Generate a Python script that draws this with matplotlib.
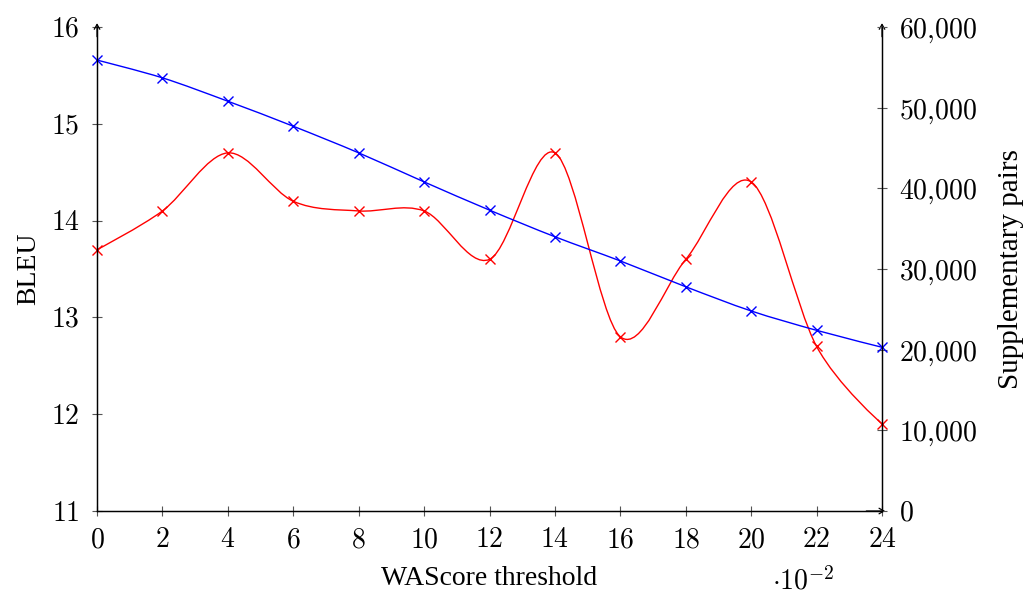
import numpy as np
import matplotlib
matplotlib.use('Agg')
import matplotlib.pyplot as plt
from matplotlib.path import Path
from matplotlib.patches import PathPatch
from matplotlib.ticker import FuncFormatter, MultipleLocator

plt.rcParams['mathtext.fontset'] = 'cm'
plt.rcParams['font.family'] = ['Liberation Serif', 'DejaVu Serif']

# -------------------- data --------------------
threshold = [0, 2, 4, 6, 8, 10, 12, 14, 16, 18, 20, 22, 24]   # x 10^-2
bleu = [13.7, 14.1, 14.7, 14.2, 14.1, 14.1, 13.6, 14.7, 12.8, 13.6, 14.4, 12.7, 11.9]
pairs = [55900, 53700, 50800, 47700, 44400, 40800, 37300, 34000, 31000, 27800, 24800, 22400, 20300]


def smooth_path(xs, ys, tension=0.16):
    # bezier path like tikz "smooth" (control pts from neighbours)
    p = np.column_stack([xs, ys]).astype(float)
    n = len(p)
    verts = [p[0]]
    codes = [Path.MOVETO]
    for i in range(n - 1):
        c1 = p[i] if i == 0 else p[i] + tension * (p[i + 1] - p[i - 1])
        c2 = p[i + 1] if i + 1 == n - 1 else p[i + 1] - tension * (p[i + 2] - p[i])
        verts += [c1, c2, p[i + 1]]
        codes += [Path.CURVE4] * 3
    return Path(verts, codes)


fig = plt.figure(figsize=(10.28, 5.94), dpi=100)
ax = fig.add_axes([0.0944, 0.1397, 0.7636, 0.8148])
ax2 = ax.twinx()

ax.set_xlim(0, 24)
ax.set_ylim(11, 16)
ax2.set_ylim(0, 60000)

# red: BLEU (left axis)
ax.add_patch(PathPatch(smooth_path(threshold, bleu), facecolor='none',
                       edgecolor='red', lw=1.0))
ax.plot(threshold, bleu, ls='none', marker='x', color='red', ms=7, mew=1.0,
        clip_on=False)

# blue: supplementary pairs (right axis)
ax2.add_patch(PathPatch(smooth_path(threshold, pairs), facecolor='none',
                        edgecolor='blue', lw=1.0))
ax2.plot(threshold, pairs, ls='none', marker='x', color='blue', ms=7, mew=1.0,
         clip_on=False)

# -------------------- axes style --------------------
for a in (ax, ax2):
    a.spines['top'].set_visible(False)
    for s in a.spines.values():
        s.set_linewidth(0.9)

ax.xaxis.set_major_locator(MultipleLocator(2))
ax.yaxis.set_major_locator(MultipleLocator(1))
ax2.yaxis.set_major_locator(MultipleLocator(10000))

ax.xaxis.set_major_formatter(FuncFormatter(lambda v, p: r'$%d$' % v))
ax.yaxis.set_major_formatter(FuncFormatter(lambda v, p: r'$%d$' % v))
ax2.yaxis.set_major_formatter(
    FuncFormatter(lambda v, p: r'$%s$' % format(int(v), ',').replace(',', '{,}')))

ax.tick_params(axis='both', direction='inout', length=7, width=0.8,
               color='#555555', labelsize=20)
ax.tick_params(axis='x', pad=9)
ax.tick_params(axis='y', pad=9, right=False)
ax2.tick_params(axis='y', direction='inout', length=7, width=0.8,
                color='#555555', labelsize=20, pad=9)

ax.set_xlabel('WAScore threshold', fontsize=20, labelpad=9)
ax.set_ylabel('BLEU', fontsize=20, labelpad=7)
ax2.set_ylabel('Supplementary pairs', fontsize=21, labelpad=15)

# arrow tips on axis lines
arrow = dict(arrowstyle='->,head_length=0.35,head_width=0.2', lw=0.9,
             color='k', shrinkA=0, shrinkB=0)
ax.annotate('', xy=(0, 1.008), xytext=(0, 0.98), xycoords='axes fraction',
            arrowprops=arrow)
ax.annotate('', xy=(1, 1.008), xytext=(1, 0.98), xycoords='axes fraction',
            arrowprops=arrow)
ax.annotate('', xy=(1.004, 0), xytext=(0.98, 0), xycoords='axes fraction',
            arrowprops=arrow)

fig.text(0.751, 0.008, r'$\cdot 10^{-2}$', fontsize=20)

fig.savefig('out.png', dpi=100)
